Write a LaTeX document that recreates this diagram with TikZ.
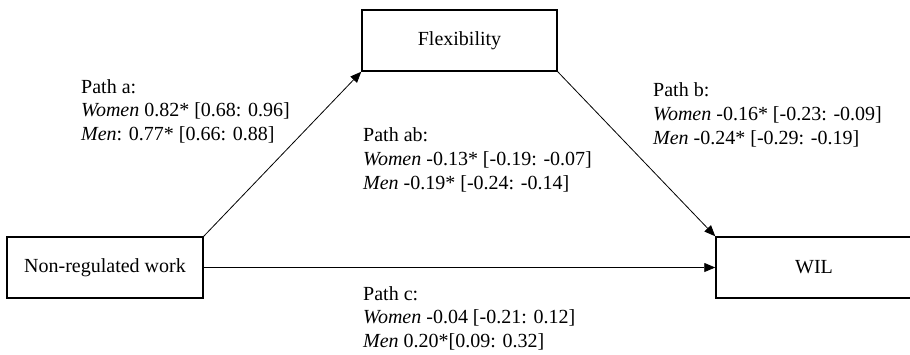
\documentclass[tikz,border=0pt]{standalone}
\usepackage{fontspec}
\setmainfont{Liberation Serif}
\usetikzlibrary{arrows.meta}
\begin{document}
\begin{tikzpicture}[x=1pt,y=-1pt,
  varbox/.style={draw, line width=1.5pt, minimum width=196pt, minimum height=61pt, inner sep=0pt,
    font=\fontsize{20}{24}\selectfont},
  pathlab/.style={anchor=base west, inner sep=0pt, font=\fontsize{20}{23.7}\selectfont},
  conn/.style={line width=0.8pt, -{Triangle[length=11pt,width=9pt]}}]
\useasboundingbox (0,0) rectangle (910,354);
\clip (0,0) rectangle (910,354);
\node[varbox] (nrw) at (105,267.5) {Non-regulated work};
\node[varbox, minimum width=195pt] (flex) at (459.5,40.5) {Flexibility};
\node[varbox] (wil) at (814,267.5) {WIL};
\draw[conn] (nrw.north east) -- (flex.south west);
\draw[conn] (flex.south east) -- (wil.north west);
\draw[conn] (nrw.east) -- (wil.west);
\node[pathlab] (pa) at (81,93) {\begin{tabular}[t]{@{}l@{}}Path a:\\ \textit{Women} 0.82* [0.68: 0.96]\\ \textit{Men}: 0.77* [0.66: 0.88]\end{tabular}};
\node[pathlab] (pab) at (363,141.7) {\begin{tabular}[t]{@{}l@{}}Path ab:\\ \textit{Women} -0.13* [-0.19: -0.07]\\ \textit{Men} -0.19* [-0.24: -0.14]\end{tabular}};
\node[pathlab] (pb) at (653,96.7) {\begin{tabular}[t]{@{}l@{}}Path b:\\ \textit{Women} -0.16* [-0.23: -0.09]\\ \textit{Men} -0.24* [-0.29: -0.19]\end{tabular}};
\node[pathlab] (pc) at (363,300) {\begin{tabular}[t]{@{}l@{}}Path c:\\ \textit{Women} -0.04 [-0.21: 0.12]\\ \textit{Men} 0.20*[0.09: 0.32]\end{tabular}};
\end{tikzpicture}
\end{document}
